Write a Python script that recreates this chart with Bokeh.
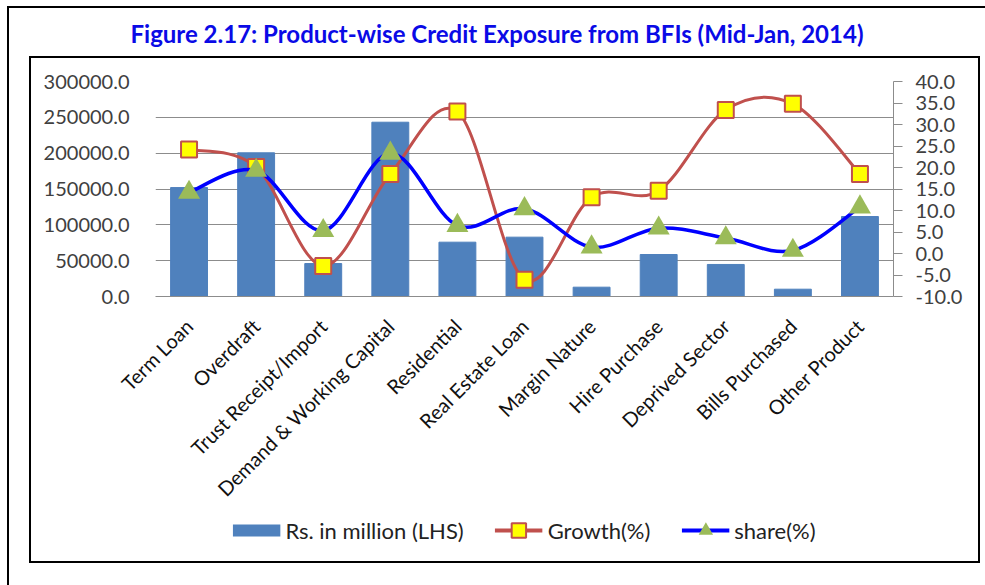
import math
from bokeh.plotting import figure
from bokeh.layouts import column
from bokeh.models import (Range1d, LinearAxis, FixedTicker, NumeralTickFormatter,
                          Legend, LegendItem, Title)
from bokeh.embed import file_html
from bokeh.resources import INLINE

categories = ["Term Loan", "Overdraft", "Trust Receipt/Import", "Demand & Working Capital",
              "Residential", "Real Estate Loan", "Margin Nature", "Hire Purchase",
              "Deprived Sector", "Bills Purchased", "Other Product"]
amount_rs_million = [152000, 200500, 46000, 243200, 75800, 82800, 13000, 58600, 44700, 10200, 111600]
growth_pct = [24.2, 20.1, -2.9, 18.5, 33.0, -6.1, 13.1, 14.6, 33.4, 34.8, 18.5]
share_pct = [14.2, 19.3, 5.3, 23.3, 6.5, 10.4, 1.5, 5.9, 3.6, 0.7, 10.8]
left_ticks = [0, 50000, 100000, 150000, 200000, 250000, 300000]
right_ticks = [-10, -5, 0, 5, 10, 15, 20, 25, 30, 35, 40]
title_text = "Figure 2.17: Product-wise Credit Exposure from BFIs (Mid-Jan, 2014)"

FONT = "Lato"
BLUE_TITLE = "#0A0AE6"
BAR_BLUE = "#4F81BD"
GROWTH_RED = "#C0504D"
SHARE_BLUE = "#0000FF"
xs = list(range(len(categories)))
BORDER_L, BORDER_R = 155, 92


def smooth_segments(xv, yv):
    """Bezier control points for a smoothed (Catmull-Rom style) line through the points."""
    n = len(xv)
    seg = dict(x0=[], y0=[], x1=[], y1=[], cx0=[], cy0=[], cx1=[], cy1=[])
    for i in range(n - 1):
        xa, ya = (xv[i - 1], yv[i - 1]) if i > 0 else (xv[i], yv[i])
        xb, yb = xv[i], yv[i]
        xc, yc = xv[i + 1], yv[i + 1]
        xd, yd = (xv[i + 2], yv[i + 2]) if i + 2 < n else (xc, yc)
        seg["x0"].append(xb); seg["y0"].append(yb)
        seg["x1"].append(xc); seg["y1"].append(yc)
        seg["cx0"].append(xb + (xc - xa) / 6.0); seg["cy0"].append(yb + (yc - ya) / 6.0)
        seg["cx1"].append(xc - (xd - xb) / 6.0); seg["cy1"].append(yc - (yd - yb) / 6.0)
    return seg


def transparent(fig):
    fig.outline_line_color = None
    fig.background_fill_alpha = 0
    fig.border_fill_alpha = 0
    return fig


# ---------------- title strip ----------------
title_fig = transparent(figure(
    width=985, height=48, output_backend="svg", toolbar_location=None,
    x_axis_type=None, y_axis_type=None, x_range=Range1d(0, 1), y_range=Range1d(0, 1),
    min_border_left=BORDER_L, min_border_right=BORDER_R, min_border_top=47, min_border_bottom=0,
    title=Title(text=title_text, align="left", offset=-25, standoff=0, vertical_align="bottom",
                text_font=FONT, text_font_style="bold", text_font_size="24px",
                text_color=BLUE_TITLE)))

# ---------------- main chart ----------------
p = transparent(figure(
    width=985, height=464, output_backend="svg", toolbar_location=None,
    x_range=Range1d(-0.5, len(categories) - 0.5), y_range=Range1d(0, 300000),
    min_border_left=BORDER_L, min_border_right=BORDER_R, min_border_top=33, min_border_bottom=216))
p.extra_y_ranges = {"right": Range1d(-10, 40)}

p.xgrid.grid_line_color = None
p.ygrid.grid_line_color = "#8c8c8c"
p.ygrid.grid_line_width = 1
p.ygrid.ticker = FixedTicker(ticks=left_ticks)

la = p.yaxis[0]
la.ticker = FixedTicker(ticks=left_ticks)
la.formatter = NumeralTickFormatter(format="0.0")
la.axis_line_color = None
la.major_tick_line_color = None
la.minor_tick_line_color = None
la.major_label_standoff = 20
la.major_label_text_font = FONT
la.major_label_text_font_size = "20px"
la.major_label_text_color = "#404040"

ra = LinearAxis(y_range_name="right", ticker=FixedTicker(ticks=right_ticks),
                formatter=NumeralTickFormatter(format="0.0"))
ra.axis_line_color = "#8c8c8c"
ra.major_tick_line_color = "#8c8c8c"
ra.major_tick_out = 9
ra.major_tick_in = 0
ra.minor_tick_line_color = None
ra.major_label_standoff = 13
ra.major_label_text_font = FONT
ra.major_label_text_font_size = "20px"
ra.major_label_text_color = "#404040"
p.add_layout(ra, "right")

ba = p.xaxis[0]
ba.ticker = FixedTicker(ticks=xs)
ba.major_label_overrides = {i: c for i, c in enumerate(categories)}
ba.major_label_orientation = math.pi / 4
ba.axis_line_color = "#8c8c8c"
ba.major_tick_line_color = None
ba.minor_tick_line_color = None
ba.major_label_standoff = 20
ba.major_label_text_font = FONT
ba.major_label_text_font_size = "20px"
ba.major_label_text_color = "#111111"

p.vbar(x=xs, top=amount_rs_million, width=0.55, fill_color=BAR_BLUE, line_color=BAR_BLUE)

g = smooth_segments(xs, growth_pct)
p.bezier(source=g, x0="x0", y0="y0", x1="x1", y1="y1", cx0="cx0", cy0="cy0",
         cx1="cx1", cy1="cy1", line_color=GROWTH_RED, line_width=3, y_range_name="right")
p.scatter(xs, growth_pct, marker="square", size=16, fill_color="#FFFF00",
          line_color=GROWTH_RED, line_width=2, y_range_name="right")

s = smooth_segments(xs, share_pct)
p.bezier(source=s, x0="x0", y0="y0", x1="x1", y1="y1", cx0="cx0", cy0="cy0",
         cx1="cx1", cy1="cy1", line_color=SHARE_BLUE, line_width=3.5, y_range_name="right")
p.scatter(xs, share_pct, marker="triangle", size=22, fill_color="#9BBB59",
          line_color=None, y_range_name="right")

# ---------------- legend strip ----------------
# The series are drawn once more here, outside this strip's visible range, so the
# legend can show their keys underneath the chart.
lf = transparent(figure(
    width=985, height=73, output_backend="svg", toolbar_location=None,
    x_axis_type=None, y_axis_type=None, x_range=Range1d(-100, -99), y_range=Range1d(0, 1),
    min_border_left=BORDER_L, min_border_right=BORDER_R, min_border_top=0, min_border_bottom=0))
bar_key = lf.line(xs, amount_rs_million, line_color=BAR_BLUE, line_width=12)
growth_line_key = lf.line(xs, growth_pct, line_color=GROWTH_RED, line_width=4)
growth_mark_key = lf.scatter(xs, growth_pct, marker="square", fill_color="#FFFF00",
                             line_color=GROWTH_RED, line_width=2)
share_line_key = lf.line(xs, share_pct, line_color=SHARE_BLUE, line_width=4)
share_mark_key = lf.scatter(xs, share_pct, marker="triangle", fill_color="#9BBB59", line_color=None)

legend = Legend(items=[LegendItem(label="Rs. in million (LHS)", renderers=[bar_key]),
                       LegendItem(label="Growth(%)", renderers=[growth_line_key, growth_mark_key]),
                       LegendItem(label="share(%)", renderers=[share_line_key, share_mark_key])],
                location="top_center", orientation="horizontal", glyph_width=48, glyph_height=36,
                label_height=36, label_standoff=5, spacing=31, padding=0, margin=0,
                border_line_color=None, background_fill_alpha=0, label_text_font=FONT,
                label_text_font_size="22px", label_text_color="#222222")
lf.add_layout(legend)

# chart-area frames (outer and inner box) drawn as CSS lines behind the transparent canvases
boxes = [  # (left, top, width, height) in px
    (7, 6, 978, 2), (7, 6, 2, 579),                 # outer box (top, left)
    (29, 56, 951, 2), (29, 561, 951, 2),            # inner box top/bottom
    (29, 56, 2, 507), (978, 56, 2, 507),            # inner box left/right
]
layout = column(title_fig, p, lf, styles={
    "background-color": "white",
    "background-image": ", ".join(["linear-gradient(#000, #000)"] * len(boxes)),
    "background-position": ", ".join(f"{l}px {t}px" for l, t, w, h in boxes),
    "background-size": ", ".join(f"{w}px {h}px" for l, t, w, h in boxes),
    "background-repeat": "no-repeat",
})

open("out.html", "w").write(file_html(layout, INLINE))
